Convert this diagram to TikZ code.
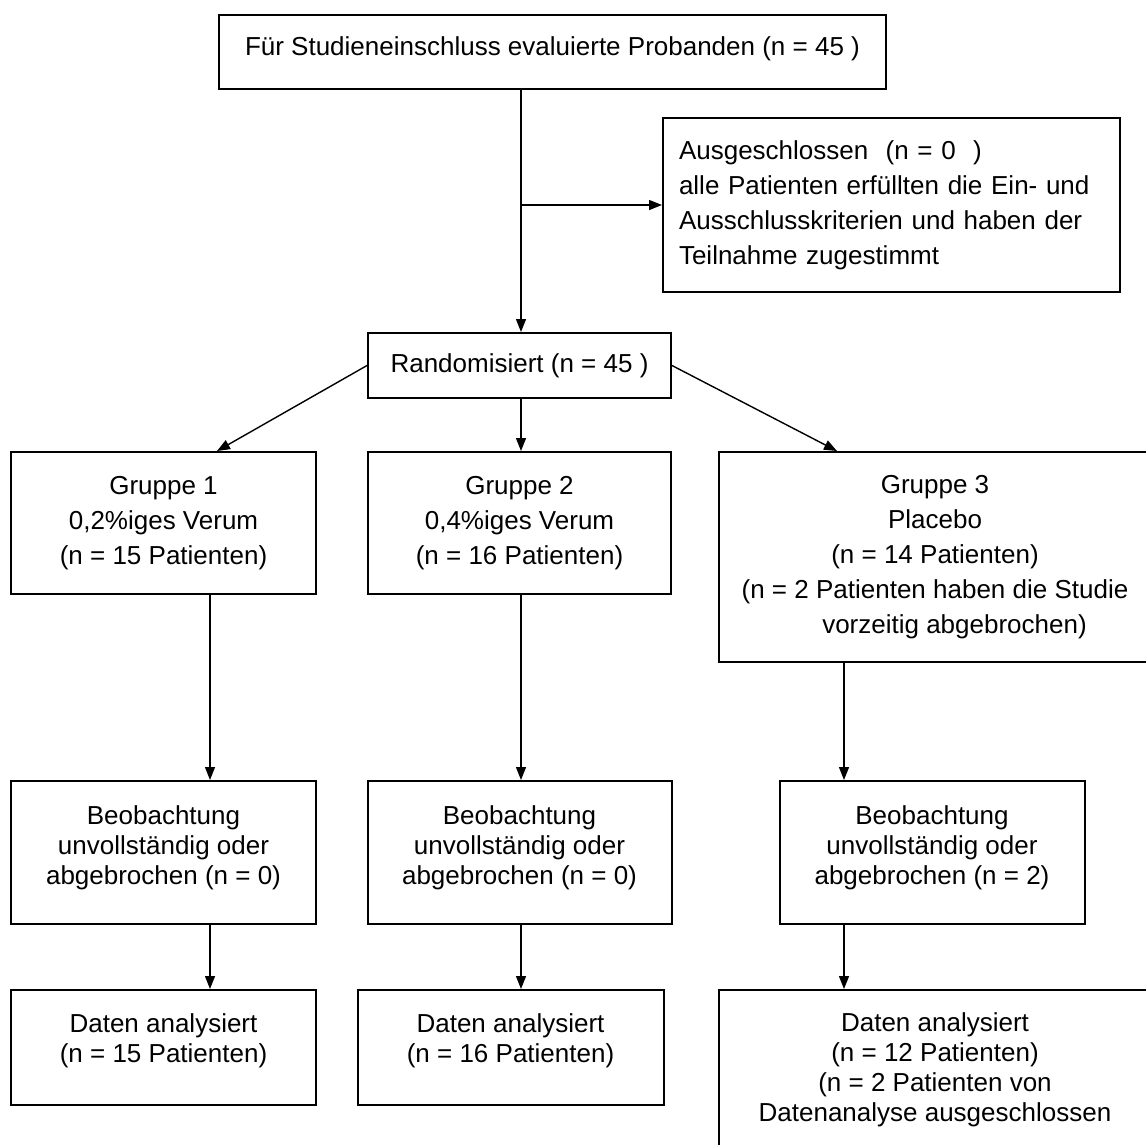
\documentclass[tikz,border=0pt]{standalone}
\usepackage{fontspec}
\setmainfont{Liberation Sans}
\usetikzlibrary{arrows.meta}

\begin{document}
\begin{tikzpicture}[x=1pt,y=-1pt,>={Triangle[length=13pt,width=10pt]},line width=1.4pt,
    box/.style={draw,line width=2pt,align=center,inner sep=0pt,font=\fontsize{26}{35}\selectfont},
    tight box/.style={box,font=\fontsize{26}{30}\selectfont}]

            \useasboundingbox (0,0) rectangle (1146,1144);
            \clip (0,0) rectangle (1146,1144);

            \node[box, minimum width=667pt, minimum height=74pt, text depth=11pt] (1) at (552.5,52) {F\"ur Studieneinschluss evaluierte Probanden (n = 45 )};
            \node[box, minimum width=457pt, minimum height=174pt, text width=425pt, align=left] (2) at (891.5,205) {Ausgeschlossen\ \ (n = 0\ \ )\\alle Patienten erf\"ullten die Ein- und\\Ausschlusskriterien und haben der\\Teilnahme zugestimmt};
            \node[box, minimum width=303pt, minimum height=65pt] (3) at (519.5,365.5) {Randomisiert (n = 45 )};

            % Gruppen
            \node[box, minimum width=305pt, minimum height=142pt] (4) at (163.5,523) {Gruppe 1\\0,2\%iges Verum\\(n = 15 Patienten)};
            \node[box, minimum width=303pt, minimum height=142pt] (5) at (519.5,523) {Gruppe 2\\0,4\%iges Verum\\(n = 16 Patienten)};
            \node[box, minimum width=432pt, minimum height=210pt] (6) at (935,557) {Gruppe 3\\Placebo\\(n = 14 Patienten)\\(n = 2 Patienten haben die Studie\\\hspace*{1.5em}vorzeitig abgebrochen)};

            % Beobachtung
            \node[tight box, minimum width=305pt, minimum height=143pt, text depth=15pt] (7) at (163.5,852.5) {Beobachtung\\unvollst\"andig oder\\abgebrochen (n = 0)};
            \node[tight box, minimum width=304pt, minimum height=143pt, text depth=15pt] (8) at (519.5,852.5) {Beobachtung\\unvollst\"andig oder\\abgebrochen (n = 0)};
            \node[tight box, minimum width=305pt, minimum height=143pt, text depth=15pt] (9) at (932,852.5) {Beobachtung\\unvollst\"andig oder\\abgebrochen (n = 2)};

            % Daten
            \node[tight box, minimum width=305pt, minimum height=115pt, text depth=19pt] (10) at (163.5,1047.5) {Daten analysiert\\(n = 15 Patienten)};
            \node[tight box, minimum width=306pt, minimum height=115pt, text depth=19pt] (11) at (510.5,1047.5) {Daten analysiert\\(n = 16 Patienten)};
            \node[tight box, minimum width=432pt, minimum height=160pt] (12) at (935,1070) {Daten analysiert\\(n = 12 Patienten)\\(n = 2 Patienten von\\Datenanalyse ausgeschlossen};

            \coordinate (a1) at (210,0);
            \coordinate (a2) at (521,0);
            \coordinate (a3) at (844,0);
            \coordinate (g1) at (217,0);
            \coordinate (g3) at (837,0);

            \draw[->] (1.south -| a2) to (3.north -| a2);
            \draw[->] (2.west -| a2) to (2.west);
            \draw[->] (3.west) to (4.north -| g1);
            \draw[->] (3.south -| a2) to (5.north -| a2);
            \draw[->] (3.east) to (6.north -| g3);
            \draw[->] (4.south -| a1) to (7.north -| a1);
            \draw[->] (5.south -| a2) to (8.north -| a2);
            \draw[->] (6.south -| a3) to (9.north -| a3);
            \draw[->] (7.south -| a1) to (10.north -| a1);
            \draw[->] (8.south -| a2) to (11.north -| a2);
            \draw[->] (9.south -| a3) to (12.north -| a3);

            ;
        \end{tikzpicture}
\end{document}
